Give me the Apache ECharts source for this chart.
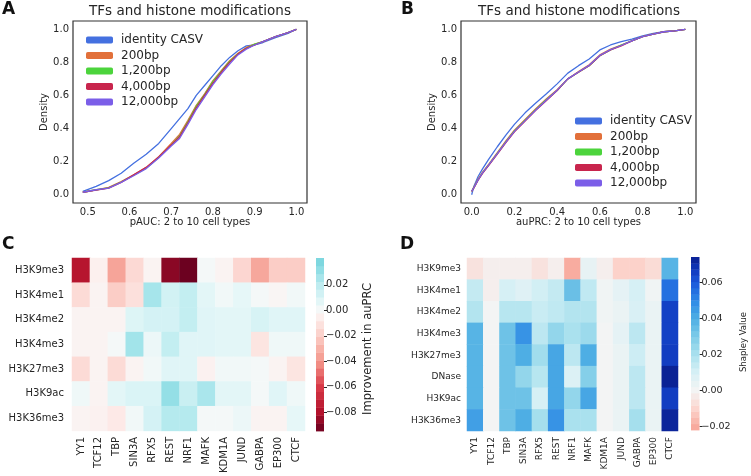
<!DOCTYPE html>
<html><head><meta charset="utf-8">
<script src="https://cdn.jsdelivr.net/npm/echarts@6/dist/echarts.min.js"></script>
<style>html,body{margin:0;padding:0;background:#fff}#c{width:751px;height:476px}</style>
</head><body><div id="c"></div>
<script>
// ---------- data ----------
const seriesNames = ['identity CASV', '200bp', '1,200bp', '4,000bp', '12,000bp'];
const seriesColors = ['#4470e0', '#e2703a', '#4cd43c', '#c8254d', '#7b5ee8'];

// Panel A: pAUC cumulative density
const aX = [0.488, 0.52, 0.55, 0.58, 0.61, 0.64, 0.67, 0.70, 0.72, 0.74, 0.76, 0.78, 0.80, 0.82, 0.84, 0.86, 0.88, 0.90, 0.92, 0.95, 0.98, 1.0];
const aIdentity = [0.02, 0.05, 0.085, 0.13, 0.19, 0.245, 0.31, 0.40, 0.46, 0.52, 0.60, 0.66, 0.72, 0.78, 0.83, 0.87, 0.90, 0.905, 0.92, 0.95, 0.975, 1.0];
const a200 = [0.015, 0.03, 0.045, 0.08, 0.12, 0.165, 0.23, 0.31, 0.365, 0.45, 0.54, 0.61, 0.69, 0.75, 0.81, 0.855, 0.89, 0.91, 0.925, 0.955, 0.98, 1.0];
const a1200 = [0.015, 0.03, 0.042, 0.077, 0.118, 0.16, 0.225, 0.30, 0.355, 0.44, 0.535, 0.605, 0.685, 0.745, 0.805, 0.85, 0.885, 0.91, 0.925, 0.955, 0.98, 1.0];
const a4000 = [0.015, 0.028, 0.04, 0.075, 0.12, 0.165, 0.228, 0.30, 0.35, 0.435, 0.525, 0.60, 0.675, 0.74, 0.80, 0.85, 0.885, 0.905, 0.925, 0.955, 0.98, 1.0];
const a12000 = [0.015, 0.03, 0.04, 0.075, 0.115, 0.158, 0.222, 0.295, 0.34, 0.425, 0.515, 0.59, 0.665, 0.73, 0.79, 0.845, 0.88, 0.905, 0.925, 0.955, 0.98, 1.0];

// Panel B: auPRC cumulative density
const bX = [0, 0.01, 0.03, 0.05, 0.08, 0.12, 0.16, 0.20, 0.25, 0.30, 0.35, 0.40, 0.45, 0.50, 0.55, 0.60, 0.65, 0.70, 0.75, 0.80, 0.85, 0.90, 0.95, 1.0];
const bIdentity = [0.0, 0.05, 0.11, 0.155, 0.215, 0.29, 0.36, 0.425, 0.495, 0.555, 0.61, 0.67, 0.735, 0.78, 0.82, 0.875, 0.905, 0.925, 0.94, 0.96, 0.975, 0.985, 0.99, 1.0];
const b200 = [0.02, 0.045, 0.095, 0.135, 0.185, 0.255, 0.325, 0.39, 0.455, 0.52, 0.58, 0.635, 0.70, 0.745, 0.785, 0.845, 0.88, 0.905, 0.93, 0.955, 0.97, 0.985, 0.99, 1.0];
const b1200 = [0.02, 0.043, 0.09, 0.13, 0.18, 0.25, 0.32, 0.385, 0.45, 0.515, 0.575, 0.63, 0.70, 0.74, 0.78, 0.84, 0.875, 0.905, 0.93, 0.955, 0.97, 0.985, 0.99, 1.0];
const b4000 = [0.02, 0.04, 0.088, 0.128, 0.178, 0.245, 0.315, 0.38, 0.445, 0.51, 0.57, 0.63, 0.70, 0.74, 0.78, 0.84, 0.875, 0.90, 0.93, 0.955, 0.97, 0.985, 0.99, 1.0];
const b12000 = [0.02, 0.042, 0.09, 0.13, 0.18, 0.248, 0.318, 0.383, 0.448, 0.512, 0.572, 0.632, 0.70, 0.742, 0.782, 0.842, 0.877, 0.902, 0.93, 0.955, 0.97, 0.985, 0.99, 1.0];

// Heatmaps
const cols = ['YY1', 'TCF12', 'TBP', 'SIN3A', 'RFX5', 'REST', 'NRF1', 'MAFK', 'KDM1A', 'JUND', 'GABPA', 'EP300', 'CTCF'];
const rowsC = ['H3K9me3', 'H3K4me1', 'H3K4me2', 'H3K4me3', 'H3K27me3', 'H3K9ac', 'H3K36me3'];
const valsC = [
  [-0.078, -0.005, -0.035, -0.015, -0.003, -0.088, -0.094, 0.001, -0.003, -0.016, -0.034, -0.02, -0.02],
  [-0.014, -0.003, -0.02, -0.012, 0.026, 0.013, 0.018, 0.007, 0.002, 0.006, 0.001, -0.002, 0.002],
  [-0.003, -0.003, -0.003, 0.009, 0.012, 0.012, 0.018, 0.008, 0.007, 0.007, 0.011, 0.008, 0.008],
  [-0.003, -0.003, 0.001, 0.027, 0.004, 0.018, 0.008, 0.008, 0.007, 0.007, -0.01, 0.003, 0.003],
  [-0.014, -0.003, -0.014, -0.003, 0.002, 0.008, 0.008, -0.004, 0.002, 0.002, 0.001, -0.003, -0.01],
  [0.003, -0.003, 0.007, 0.01, 0.01, 0.031, 0.016, 0.025, 0.007, 0.007, 0.001, 0.008, 0.003],
  [-0.003, -0.004, -0.008, 0.002, 0.012, 0.022, 0.022, 0.001, 0.001, 0.004, -0.003, -0.003, 0.006]
];
const rowsD = ['H3K9me3', 'H3K4me1', 'H3K4me2', 'H3K4me3', 'H3K27me3', 'DNase', 'H3K9ac', 'H3K36me3'];
const valsD = [
  [-0.006, -0.002, -0.002, -0.002, -0.006, -0.002, -0.02, 0.004, -0.002, -0.011, -0.011, -0.008, 0.038],
  [0.014, -0.002, 0.01, 0.007, 0.011, 0.014, 0.034, 0.015, 0.001, 0.005, 0.01, 0.001, 0.055],
  [0.018, 0.0, 0.017, 0.017, 0.013, 0.015, 0.018, 0.018, 0.001, 0.003, 0.009, 0.003, 0.065],
  [0.038, 0.0, 0.033, 0.047, 0.016, 0.025, 0.02, 0.023, 0.0, 0.005, 0.016, 0.003, 0.065],
  [0.038, 0.0, 0.033, 0.04, 0.022, 0.042, 0.016, 0.04, 0.0, 0.003, 0.012, 0.003, 0.066],
  [0.038, 0.0, 0.033, 0.025, 0.017, 0.042, 0.008, 0.028, 0.0, 0.003, 0.016, 0.003, 0.073],
  [0.038, 0.0, 0.033, 0.033, 0.01, 0.042, 0.025, 0.042, 0.0, 0.003, 0.016, 0.003, 0.066],
  [0.044, 0.0, 0.033, 0.04, 0.021, 0.047, 0.02, 0.02, 0.0, 0.003, 0.021, 0.003, 0.072]
];

// tick labels
const ticksAX = [0.5, 0.6, 0.7, 0.8, 0.9, 1.0];
const ticksBX = [0.0, 0.2, 0.4, 0.6, 0.8, 1.0];
const ticksDensity = [0.0, 0.2, 0.4, 0.6, 0.8, 1.0];
const ticksCbarC = [-0.08, -0.06, -0.04, -0.02, 0.0, 0.02];
const ticksCbarD = [-0.02, 0.0, 0.02, 0.04, 0.06];
const cbarRangeC = [-0.0947, 0.041];
const cbarRangeD = [-0.0222, 0.074];

// ---------- colour maps ----------
const stopsC = [[-0.095, '#67001f'], [-0.08, '#b2112b'], [-0.06, '#d93a48'], [-0.04, '#f4968a'], [-0.02, '#fbcdc6'], [-0.006, '#fdeeec'], [0, '#f7f8f8'], [0.006, '#e6f7f8'], [0.02, '#bdecf0'], [0.03, '#97e0e7'], [0.041, '#74d3dc']];
const stopsD = [[-0.0222, '#f7a396'], [-0.01, '#fcd6cf'], [0, '#f3f4f4'], [0.01, '#d6f0f5'], [0.02, '#aae1ee'], [0.03, '#7ccbe8'], [0.04, '#4eaee4'], [0.05, '#2d88e6'], [0.06, '#1b58da'], [0.067, '#1038bd'], [0.074, '#0a1e8e']];
function hex2rgb(h) { return [parseInt(h.slice(1, 3), 16), parseInt(h.slice(3, 5), 16), parseInt(h.slice(5, 7), 16)]; }
function cmap(stops, v) {
  if (v <= stops[0][0]) return stops[0][1];
  if (v >= stops[stops.length - 1][0]) return stops[stops.length - 1][1];
  for (let i = 0; i < stops.length - 1; i++) {
    const [v0, c0] = stops[i], [v1, c1] = stops[i + 1];
    if (v >= v0 && v <= v1) {
      const t = (v - v0) / (v1 - v0), a = hex2rgb(c0), b = hex2rgb(c1);
      return 'rgb(' + a.map((x, k) => Math.round(x + (b[k] - x) * t)).join(',') + ')';
    }
  }
}
function bands(stops, range, n) {
  const out = [], step = (range[1] - range[0]) / n;
  for (let i = 0; i < n; i++) {
    const lo = range[0] + i * step, hi = lo + step;
    out.push([lo, hi, cmap(stops, (lo + hi) / 2)]);
  }
  return out;
}
const bandsC = bands(stopsC, cbarRangeC, 22);
const bandsD = bands(stopsD, cbarRangeD, 28);

// ---------- option ----------
const FONT = 'DejaVu Sans';
const TXT = '#262626';
const fmt1 = v => v.toFixed(1);
const fmt2 = v => (v < -1e-9 ? '\u2212' : '') + Math.abs(v).toFixed(2);

function lineAxisX(idx, min, max, ticks, name) {
  return { type: 'value', gridIndex: idx, min, max, name, nameLocation: 'middle', nameGap: 14,
    nameTextStyle: { fontFamily: FONT, fontSize: 10, color: TXT },
    axisLine: { show: false }, axisTick: { show: false }, splitLine: { show: false },
    axisLabel: { customValues: ticks, formatter: fmt1, fontFamily: FONT, fontSize: 10, color: TXT, margin: 4 } };
}
function lineAxisY(idx) {
  return { type: 'value', gridIndex: idx, min: -0.05, max: 1.05, name: 'Density', nameLocation: 'middle', nameGap: 17,
    nameTextStyle: { fontFamily: FONT, fontSize: 10, color: TXT },
    axisLine: { show: false }, axisTick: { show: false }, splitLine: { show: false },
    axisLabel: { customValues: ticksDensity, formatter: fmt1, fontFamily: FONT, fontSize: 10, color: TXT, margin: 4 } };
}
function lineSeries(i, gi, xs, ys) {
  return { type: 'line', name: seriesNames[i], xAxisIndex: gi, yAxisIndex: gi, color: seriesColors[i],
    data: xs.map((x, k) => [x, ys[k]]), showSymbol: false, symbol: 'none', silent: true,
    lineStyle: { width: 1.3, color: seriesColors[i] }, emphasis: { disabled: true } };
}
function heatSeries(gi, vals, stops) {
  const data = [];
  vals.forEach((row, r) => row.forEach((v, c) => data.push({ value: [c, r, v], itemStyle: { color: cmap(stops, v) } })));
  return { type: 'heatmap', xAxisIndex: gi, yAxisIndex: gi, data, silent: true, emphasis: { disabled: true } };
}
function cbarSeries(gi, bnds) {
  return { type: 'custom', xAxisIndex: gi, yAxisIndex: gi, silent: true,
    data: bnds.map(b => [0, b[0], b[1]]), encode: { x: 0, y: [1, 2] },
    renderItem(params, api) {
      const top = api.coord([0, api.value(2)]);
      const bot = api.coord([0, api.value(1)]);
      const w = api.size([1, 0])[0];
      return { type: 'rect', shape: { x: top[0] - w / 2, y: top[1], width: w, height: bot[1] - top[1] + 0.4 },
        style: { fill: bnds[params.dataIndex][2] } };
    } };
}
function catX(idx, fs, show) {
  return { type: 'category', gridIndex: idx, data: show ? cols : ['cb'], show,
    axisLine: { show: false }, axisTick: { show: false }, splitLine: { show: false },
    axisLabel: { interval: 0, rotate: 90, fontFamily: FONT, fontSize: fs, color: TXT, margin: 6 } };
}
function catY(idx, rows, fs, margin) {
  return { type: 'category', gridIndex: idx, data: rows, inverse: true,
    axisLine: { show: false }, axisTick: { show: false }, splitLine: { show: false },
    axisLabel: { fontFamily: FONT, fontSize: fs, color: TXT, margin } };
}
function cbarY(idx, range, ticks, fs) {
  return { type: 'value', gridIndex: idx, min: range[0], max: range[1], position: 'right',
    axisLine: { show: false }, splitLine: { show: false },
    axisTick: { show: true, customValues: ticks, length: 3, lineStyle: { color: TXT, width: 1 } },
    axisLabel: { customValues: ticks, formatter: fmt2, fontFamily: FONT, fontSize: fs, color: TXT, margin: 2 } };
}

const legendBase = { orient: 'vertical', icon: 'roundRect', itemWidth: 27, itemHeight: 7, itemGap: 3.5,
  textStyle: { fontFamily: FONT, fontSize: 12, color: TXT, padding: [0, 0, 0, 3] }, data: seriesNames, selectedMode: false };

const option = {
  animation: false,
  backgroundColor: '#ffffff',
  grid: [
    { left: 73, top: 21, width: 234, height: 182, show: true, borderColor: '#333', borderWidth: 1.2, backgroundColor: 'transparent' },
    { left: 461, top: 21, width: 235, height: 182, show: true, borderColor: '#333', borderWidth: 1.2, backgroundColor: 'transparent' },
    { left: 72, top: 258, width: 233, height: 173 },
    { left: 316, top: 258, width: 8, height: 173 },
    { left: 467, top: 258, width: 211, height: 173 },
    { left: 691, top: 257, width: 8.5, height: 173 }
  ],
  xAxis: [
    lineAxisX(0, 0.4645, 1.0255, ticksAX, 'pAUC: 2 to 10 cell types'),
    lineAxisX(1, -0.05, 1.05, ticksBX, 'auPRC: 2 to 10 cell types'),
    catX(2, 10, true),
    catX(3, 10, false),
    catX(4, 9, true),
    catX(5, 9, false)
  ],
  yAxis: [
    lineAxisY(0),
    lineAxisY(1),
    catY(2, rowsC, 10, 8),
    cbarY(3, cbarRangeC, ticksCbarC, 10),
    catY(4, rowsD, 9, 6),
    cbarY(5, cbarRangeD, ticksCbarD, 9.5)
  ],
  legend: [
    Object.assign({}, legendBase, { left: 81, top: 29 }),
    Object.assign({}, legendBase, { left: 570, top: 110 })
  ],
  series: [
    lineSeries(0, 0, aX, aIdentity), lineSeries(1, 0, aX, a200), lineSeries(2, 0, aX, a1200), lineSeries(3, 0, aX, a4000), lineSeries(4, 0, aX, a12000),
    lineSeries(0, 1, bX, bIdentity), lineSeries(1, 1, bX, b200), lineSeries(2, 1, bX, b1200), lineSeries(3, 1, bX, b4000), lineSeries(4, 1, bX, b12000),
    heatSeries(2, valsC, stopsC),
    cbarSeries(3, bandsC),
    heatSeries(4, valsD, stopsD),
    cbarSeries(5, bandsD)
  ],
  graphic: [
    { type: 'text', x: 190, y: 11, style: { text: 'TFs and histone modifications', font: '13.5px "DejaVu Sans"', fill: TXT, align: 'center', verticalAlign: 'middle' } },
    { type: 'text', x: 579, y: 11, style: { text: 'TFs and histone modifications', font: '13.5px "DejaVu Sans"', fill: TXT, align: 'center', verticalAlign: 'middle' } },
    { type: 'text', x: 2, y: 10, style: { text: 'A', font: 'bold 17px "DejaVu Sans"', fill: '#111', align: 'left', verticalAlign: 'middle' } },
    { type: 'text', x: 401, y: 10, style: { text: 'B', font: 'bold 17px "DejaVu Sans"', fill: '#111', align: 'left', verticalAlign: 'middle' } },
    { type: 'text', x: 2, y: 245, style: { text: 'C', font: 'bold 17px "DejaVu Sans"', fill: '#111', align: 'left', verticalAlign: 'middle' } },
    { type: 'text', x: 400, y: 245, style: { text: 'D', font: 'bold 17px "DejaVu Sans"', fill: '#111', align: 'left', verticalAlign: 'middle' } },
    { type: 'text', x: 368, y: 349, rotation: Math.PI / 2, style: { text: 'Improvement in auPRC', font: '11.5px "DejaVu Sans"', fill: TXT, align: 'center', verticalAlign: 'middle' } },
    { type: 'text', x: 744, y: 342, rotation: Math.PI / 2, style: { text: 'Shapley Value', font: '8.5px "DejaVu Sans"', fill: TXT, align: 'center', verticalAlign: 'middle' } }
  ]
};

const chart = echarts.init(document.getElementById('c'), null, { renderer: 'canvas' });
chart.setOption(option);
</script>
</body></html>
